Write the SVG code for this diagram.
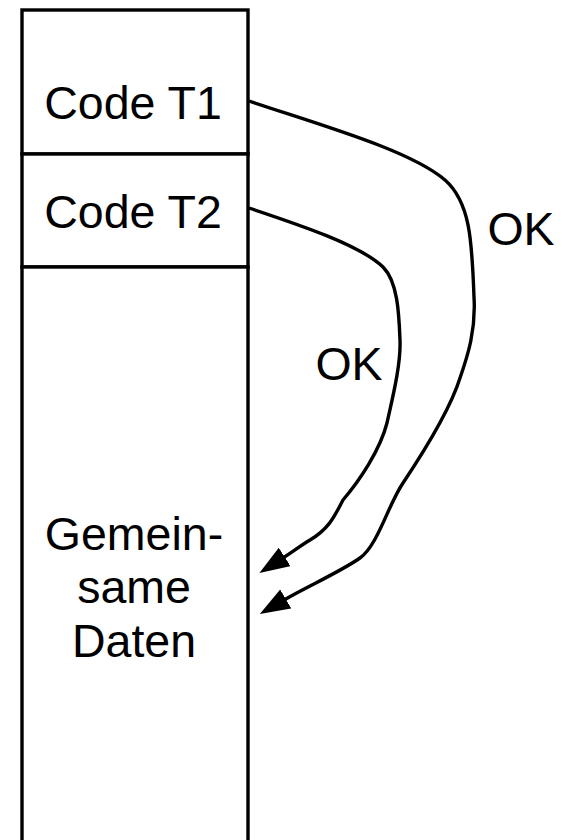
<svg xmlns="http://www.w3.org/2000/svg" width="562" height="840" viewBox="0 0 562 840">
<style>
.box{fill:#fff;stroke:#000;stroke-width:3.4}
.t{font-family:"Liberation Sans",Arial,sans-serif;font-size:46.5px;fill:#000;text-anchor:middle}
.c{fill:none;stroke:#000;stroke-width:3.4}
</style>
<defs>
<marker id="ah" markerUnits="userSpaceOnUse" markerWidth="32" markerHeight="24" refX="2" refY="11" orient="auto">
<path d="M0,0 L30,11 L0,22 z" fill="#000"/>
</marker>
</defs>
<rect width="562" height="840" fill="#fff"/>
<g id="code-t1">
<rect class="box" x="22" y="10" width="226" height="144"/>
<text class="t" x="133" y="119">Code T1</text>
</g>
<g id="code-t2">
<rect class="box" x="22" y="154" width="226" height="113"/>
<text class="t" x="133" y="228">Code T2</text>
</g>
<g id="daten">
<rect class="box" x="22" y="267" width="226" height="580"/>
<text class="t" x="134" y="550">Gemein-</text>
<text class="t" x="134" y="603">same</text>
<text class="t" x="134" y="657">Daten</text>
</g>
<g id="connectors">
<path class="c" marker-end="url(#ah)" d="M249,101 C320,125 410,150 445,180 C470,202 472,240 474,297 C476,330 468,355 460,378 C450,410 425,450 403,483 C388,505 378,545 360,558 C340,572 308,586 284,600"/>
<path class="c" marker-end="url(#ah)" d="M249,208 C300,225 360,245 383,267 C398,282 399,315 400,340 C401,365 392,400 387,423 C380,450 360,480 343,500 C335,515 330,528 310,540 C300,546 294,551 283,558"/>
<text class="t" x="521" y="245">OK</text>
<text class="t" x="349" y="380">OK</text>
</g>
</svg>
